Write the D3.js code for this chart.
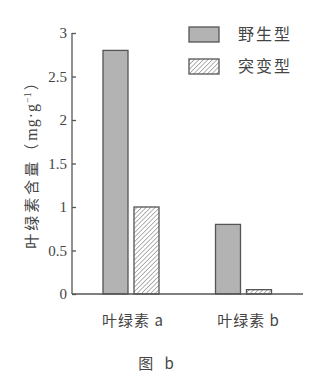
<!DOCTYPE html>
<html>
<head>
<meta charset="utf-8">
<script src="https://cdn.jsdelivr.net/npm/d3@7"></script>
<style>
body{margin:0;background:#fff;}
text{fill:#444;}
</style>
</head>
<body>
<script>
var w=324;
var h=386;

var categories=["叶绿素 a","叶绿素 b"];
var seriesNames=["野生型","突变型"];
var wildValues=[2.8,0.8];
var mutantValues=[1.0,0.05];
var yTicks=[0,0.5,1,1.5,2,2.5,3];

var svg=d3.select("body").append("svg")
	.attr("width",w)
	.attr("height",h);

var defs=svg.append("defs");
var pat=defs.append("pattern")
	.attr("id","hatch")
	.attr("patternUnits","userSpaceOnUse")
	.attr("width",3.2)
	.attr("height",3.2)
	.attr("patternTransform","rotate(45)");
pat.append("rect").attr("width",3.2).attr("height",3.2).attr("fill","#fff");
pat.append("line")
	.attr("x1",0).attr("y1",0).attr("x2",0).attr("y2",3.2)
	.attr("stroke","#999").attr("stroke-width",1.5);

var plotL=72, plotR=303, plotT=33, plotB=294;

var y=d3.scaleLinear().domain([0,3]).range([plotB,plotT]);

// group centres
var groupCenter=d3.scalePoint().domain(categories).range([131,243.5]);
var barW=25, gap=6;

var data=categories.map(function(c,i){
	return {cat:c,vals:[wildValues[i],mutantValues[i]]};
});

var fills=["#b3b3b3","url(#hatch)"];

var g=svg.append("g");
data.forEach(function(d){
	d.vals.forEach(function(v,j){
		var cx=groupCenter(d.cat);
		var xs=cx-gap/2-barW + j*(barW+gap);
		g.append("rect")
			.attr("x",xs)
			.attr("y",y(v))
			.attr("width",barW)
			.attr("height",plotB-y(v))
			.attr("fill",fills[j])
			.attr("stroke","#555")
			.attr("stroke-width",1.3);
	});
});

// y axis
var yAxis=d3.axisRight(y).tickValues(yTicks).tickSize(4).tickFormat(d3.format("~g"));
var ya=svg.append("g").attr("transform","translate("+plotL+",0)").call(yAxis);
ya.select(".domain").attr("d","M0,"+plotT+"V"+plotB).attr("stroke","#555").attr("stroke-width",1.3);
ya.selectAll(".tick line").attr("stroke","#555").attr("stroke-width",1.3);
ya.selectAll(".tick text")
	.attr("x",-5)
	.attr("text-anchor","end")
	.style("font-family","'Liberation Serif',serif")
	.style("font-size","15px")
	.style("fill","#444");

// x axis line
svg.append("line")
	.attr("x1",plotL).attr("x2",plotR)
	.attr("y1",plotB).attr("y2",plotB)
	.attr("stroke","#555").attr("stroke-width",1.3);

// category labels
svg.selectAll(".cat").data(categories).enter().append("text")
	.attr("class","cat")
	.attr("x",function(d,i){return groupCenter(d)+(i==0?2:5);})
	.attr("y",326)
	.attr("text-anchor","middle")
	.style("font-family","'Noto Sans CJK SC',sans-serif")
	.style("font-size","15px")
	.style("letter-spacing","1px")
	.text(function(d){return d;});

// y label
var yl=svg.append("text")
	.attr("transform","translate(37,162) rotate(-90)")
	.attr("text-anchor","middle")
	.style("font-family","'Noto Sans CJK SC',sans-serif")
	.style("font-size","15px");
yl.append("tspan").style("letter-spacing","3px").text("叶绿素含量（");
yl.append("tspan").style("font-family","'Liberation Serif',serif").style("font-size","16px").style("letter-spacing","1px").text("mg·g");
yl.append("tspan").style("font-family","'Liberation Serif',serif").style("font-size","10px").attr("dy",-6).text("−1");
yl.append("tspan").attr("dy",6).attr("dx",2).text("）");

// legend
var leg=svg.append("g");
seriesNames.forEach(function(s,i){
	leg.append("rect")
		.attr("x",189).attr("y",27+i*32)
		.attr("width",30).attr("height",15)
		.attr("fill",fills[i])
		.attr("stroke","#555").attr("stroke-width",1.3);
	leg.append("text")
		.attr("x",238).attr("y",40+i*32)
		.style("font-family","'Noto Sans CJK SC',sans-serif")
		.style("font-size","16px")
		.style("letter-spacing","2px")
		.text(s);
});

// caption
svg.append("text")
	.attr("x",158).attr("y",369)
	.attr("text-anchor","middle")
	.style("font-family","'Noto Sans CJK SC',sans-serif")
	.style("font-size","15px")
	.style("letter-spacing","4px")
	.text("图 b");
</script>
</body>
</html>
